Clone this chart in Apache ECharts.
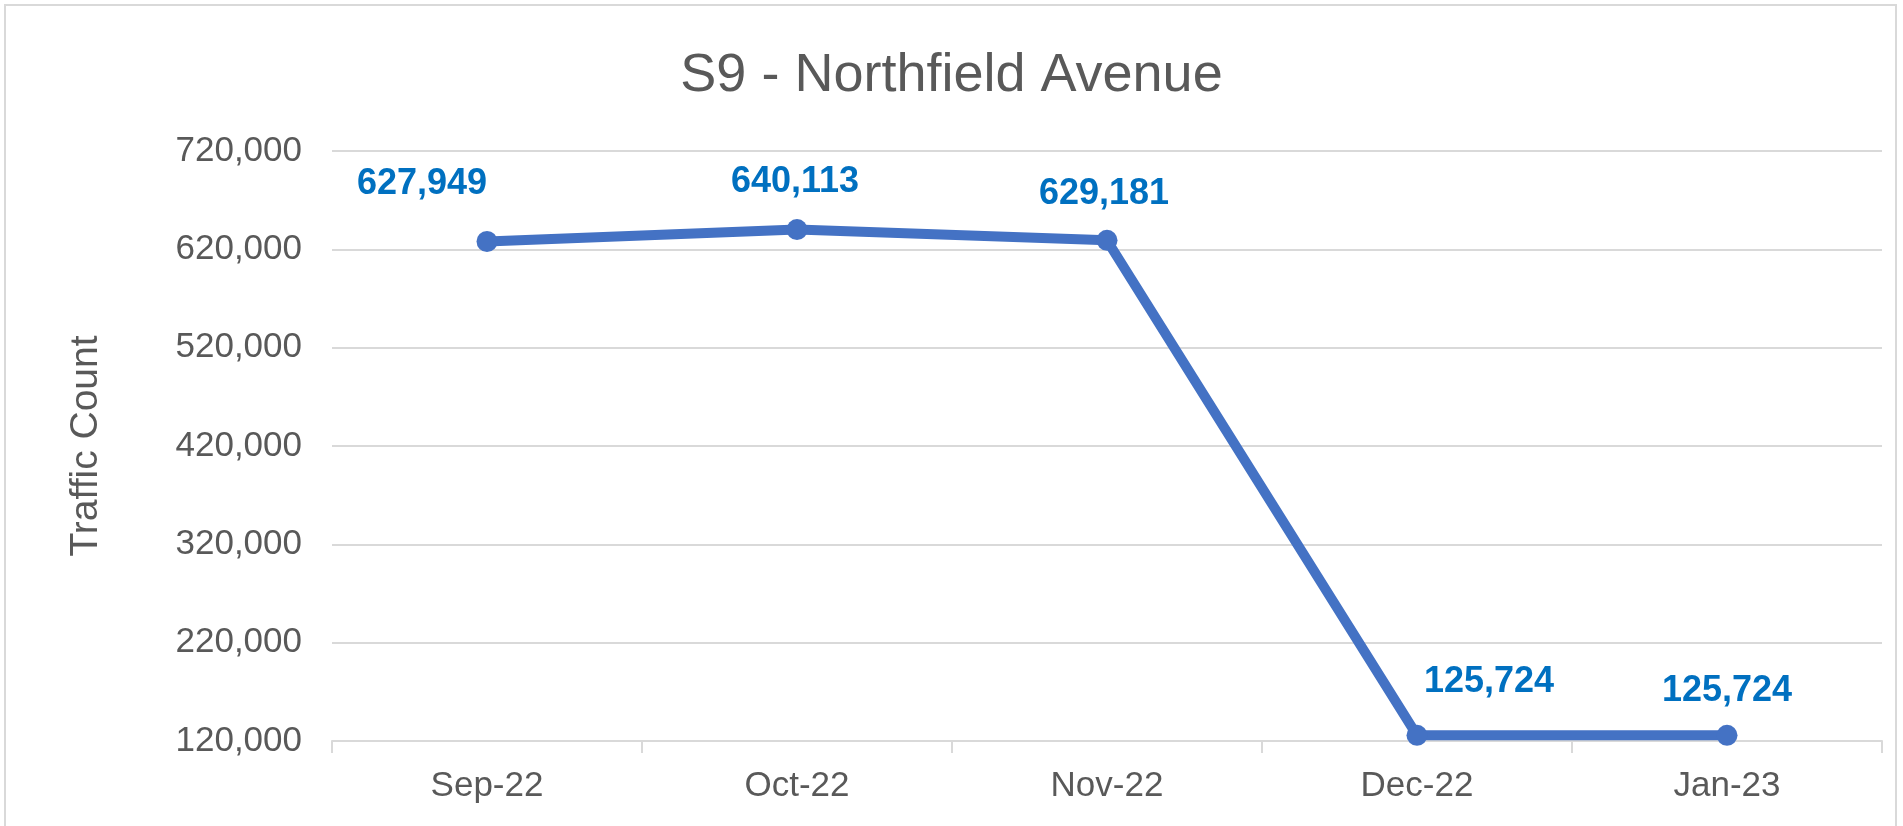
<!DOCTYPE html>
<html>
<head>
    <meta charset="UTF-8">
    <title>S9 - Northfield Avenue</title>
    <script type="text/javascript" src="https://cdn.jsdelivr.net/npm/echarts@6/dist/echarts.min.js"></script>
    <style>
        html, body { margin: 0; padding: 0; background: #ffffff; }
    </style>
</head>
<body>
    <div id="traffic_chart" style="width:1903px; height:826px;"></div>
    <script>
        // data
        var months = ["Sep-22", "Oct-22", "Nov-22", "Dec-22", "Jan-23"];
        var trafficCount = [627949, 640113, 629181, 125724, 125724];
        var yTicks = [120000, 220000, 320000, 420000, 520000, 620000, 720000];

        // label nudges (px) so the numbers sit where the excel labels were
        var labelShift = [[-65, -57], [-2, -47], [-3, -46], [72, -53], [0, -44]];

        var fmt = function (v) { return Number(v).toLocaleString('en-US'); };

        var chart = echarts.init(document.getElementById('traffic_chart'), null, {renderer: 'canvas'});

        var seriesData = trafficCount.map(function (v, i) {
            return {
                value: v,
                label: {offset: labelShift[i]}
            };
        });

        var option = {
            animation: false,
            backgroundColor: '#ffffff',
            textStyle: {fontFamily: 'Liberation Sans, Arial, sans-serif'},
            graphic: [{
                type: 'rect',
                shape: {x: 5, y: 5, width: 1891, height: 1000},
                style: {fill: 'none', stroke: '#d9d9d9', lineWidth: 2},
                silent: true
            }],
            title: {
                text: 'S9 - Northfield Avenue',
                left: 'center',
                top: 44,
                textStyle: {
                    color: '#595959',
                    fontSize: 54,
                    fontWeight: 'normal',
                    fontFamily: 'Liberation Sans, Arial, sans-serif'
                }
            },
            grid: {
                left: 332,
                right: 21,
                top: 151,
                bottom: 85,
                containLabel: false
            },
            xAxis: {
                type: 'category',
                data: months,
                boundaryGap: true,
                axisLine: {show: true, lineStyle: {color: '#d9d9d9', width: 2}},
                axisTick: {show: true, length: 12, lineStyle: {color: '#d9d9d9', width: 2}},
                axisLabel: {
                    color: '#595959',
                    fontSize: 35,
                    margin: 28,
                    fontFamily: 'Liberation Sans, Arial, sans-serif'
                }
            },
            yAxis: {
                type: 'value',
                min: 120000,
                max: 720000,
                name: 'Traffic Count',
                nameLocation: 'middle',
                nameRotate: 90,
                nameGap: 226,
                nameTextStyle: {
                    color: '#595959',
                    fontSize: 39,
                    fontFamily: 'Liberation Sans, Arial, sans-serif'
                },
                axisLine: {show: false},
                axisTick: {show: false, customValues: yTicks},
                splitLine: {show: true, lineStyle: {color: '#d9d9d9', width: 2}},
                axisLabel: {
                    customValues: yTicks,
                    color: '#595959',
                    fontSize: 35,
                    margin: 30,
                    formatter: fmt,
                    fontFamily: 'Liberation Sans, Arial, sans-serif'
                }
            },
            series: [{
                type: 'line',
                name: 'Traffic Count',
                data: seriesData,
                symbol: 'circle',
                symbolSize: 21,
                itemStyle: {color: '#4472c4'},
                lineStyle: {color: '#4472c4', width: 10},
                label: {
                    show: true,
                    position: 'inside',
                    color: '#0070c0',
                    fontSize: 36,
                    fontWeight: 'bold',
                    fontFamily: 'Liberation Sans, Arial, sans-serif',
                    formatter: function (p) { return fmt(p.value); }
                }
            }]
        };
        chart.setOption(option);
    </script>
</body>
</html>
